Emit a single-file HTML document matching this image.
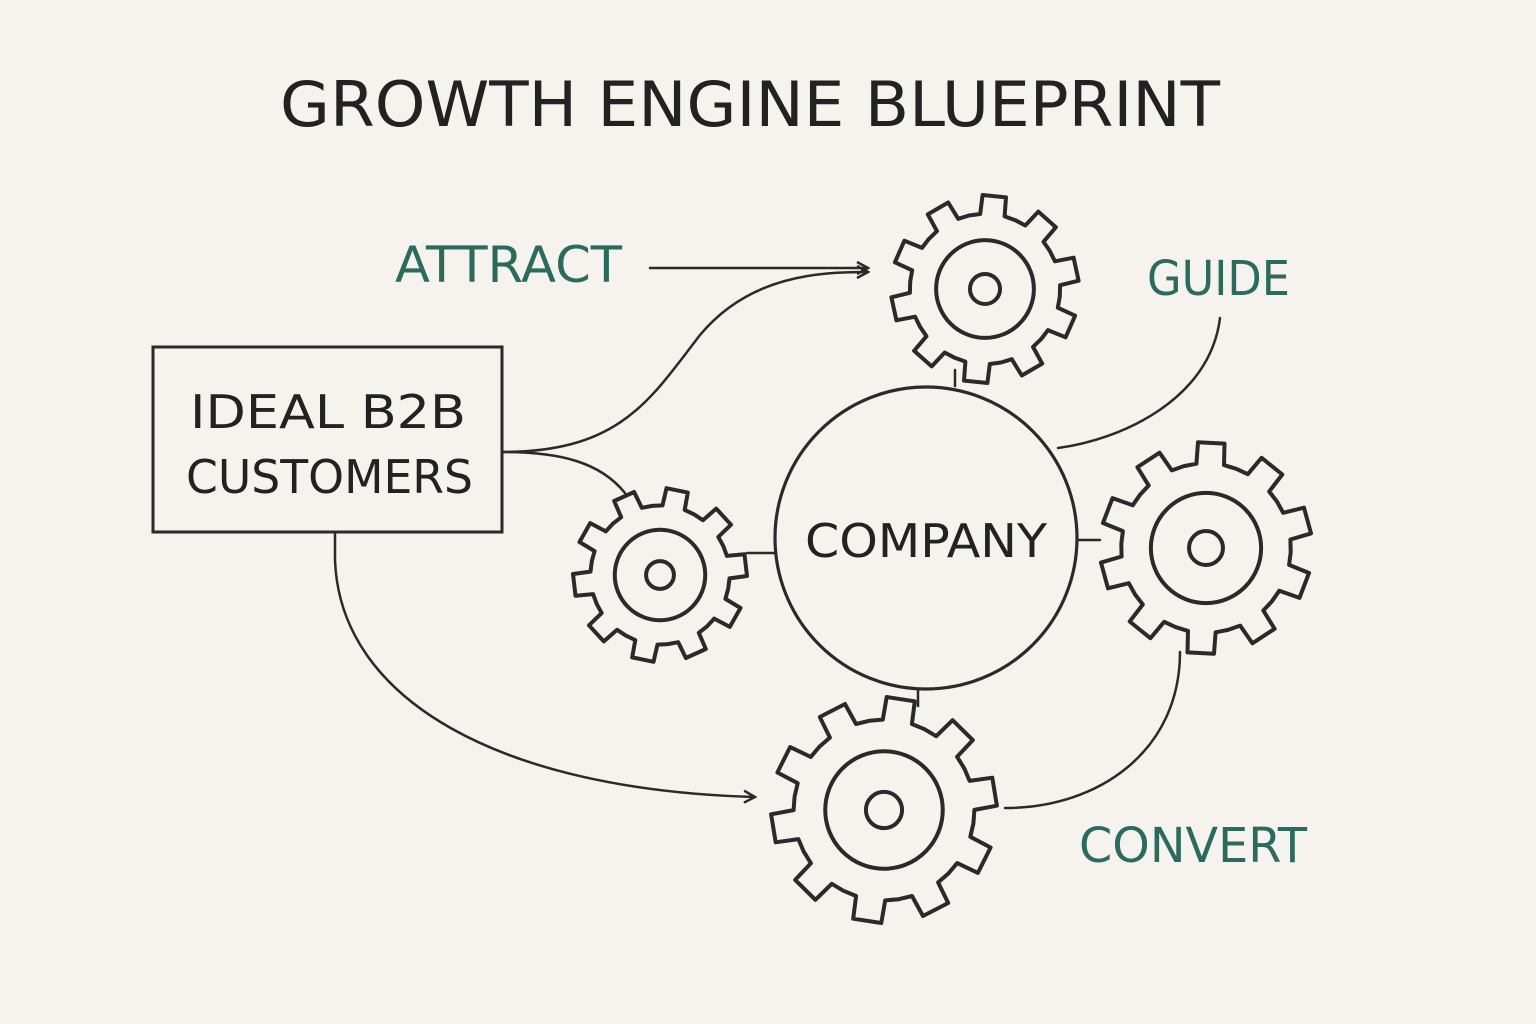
<!DOCTYPE html>
<html><head><meta charset="utf-8"><style>
html,body{margin:0;padding:0;background:#f6f2ed;}
svg{display:block}
text{font-family:"DejaVu Sans","Liberation Sans",sans-serif;}
</style></head><body>
<svg id="s" width="1536" height="1024" viewBox="0 0 1536 1024" xmlns="http://www.w3.org/2000/svg">
<rect width="1536" height="1024" fill="#f6f2ed"/>
<defs><marker id="a" markerWidth="14" markerHeight="14" refX="12" refY="7" orient="auto" markerUnits="userSpaceOnUse"><path d="M1,1 L12,7 L1,13" fill="none" stroke="#2a2a2a" stroke-width="2.5"/></marker></defs>
<g fill="none" stroke="#2a2a2a" stroke-width="2.5" stroke-linecap="round">
<path d="M650,268 L868,268" marker-end="url(#a)"/>
<path d="M502,452 C620,452 650,400 700,335 C750,275 820,272 868,272" marker-end="url(#a)"/>
<path d="M502,452 C560,452 600,462 625,493"/>
<path d="M335,532 L335,560 C340,700 500,790 755,797" marker-end="url(#a)"/>
<path d="M1220,318 C1210,400 1120,440 1058,448"/>
<path d="M1180,652 C1180,750 1100,808 1005,808"/>
<path d="M747,553 L775,553"/>
<path d="M955,370 L955,386"/>
<path d="M1078,540 L1100,540"/>
<path d="M918,689 L918,706"/>
</g>
<rect x="153" y="347" width="349" height="185" fill="none" stroke="#2a2a2a" stroke-width="3"/>
<circle cx="926" cy="538" r="151" fill="none" stroke="#2a2a2a" stroke-width="3.2"/>
<g id="gears" fill="none" stroke="#2a2a2a" stroke-width="4" stroke-linejoin="round"></g>
<g fill="#222" font-size="52">
<text x="280" y="126" textLength="940" lengthAdjust="spacingAndGlyphs" font-size="62">GROWTH ENGINE BLUEPRINT</text>
<text x="190" y="428" textLength="276" lengthAdjust="spacingAndGlyphs" font-size="46">IDEAL B2B</text>
<text x="186" y="493" textLength="287" lengthAdjust="spacingAndGlyphs" font-size="46">CUSTOMERS</text>
<text x="805" y="557" textLength="242" lengthAdjust="spacingAndGlyphs" font-size="46">COMPANY</text>
</g>
<g fill="#2b6b5e" font-size="50">
<text x="395" y="282" textLength="227" lengthAdjust="spacingAndGlyphs">ATTRACT</text>
<text x="1147" y="295" textLength="143" lengthAdjust="spacingAndGlyphs" font-size="48">GUIDE</text>
<text x="1079" y="862" textLength="228" lengthAdjust="spacingAndGlyphs" font-size="48">CONVERT</text>
</g>
</svg>
<script>
var g=document.getElementById('gears'),NS='http://www.w3.org/2000/svg';
function gear(cx,cy,R,rot){
 var n=10,r=R*0.8,d='';
 for(var i=0;i<n;i++){
  var b=(i/n)*2*Math.PI+rot,s=2*Math.PI/n;
  var pts=[[r,b],[r,b+s*0.24],[R,b+s*0.3],[R,b+s*0.7],[r,b+s*0.76]];
  pts.forEach(function(p,j){d+=(i==0&&j==0?'M':'L')+(cx+p[0]*Math.cos(p[1])).toFixed(1)+','+(cy+p[0]*Math.sin(p[1])).toFixed(1)+' ';});
 }
 d+='Z';
 var p=document.createElementNS(NS,'path');p.setAttribute('d',d);g.appendChild(p);
 [R*0.52,R*0.16].forEach(function(rr){var c=document.createElementNS(NS,'circle');c.setAttribute('cx',cx);c.setAttribute('cy',cy);c.setAttribute('r',rr);g.appendChild(c);});
}
gear(985,289,94,0.1);
gear(660,575,87,0.2);
gear(1206,548,106,0.05);
gear(884,810,113,0.15);
</script>
</body></html>
